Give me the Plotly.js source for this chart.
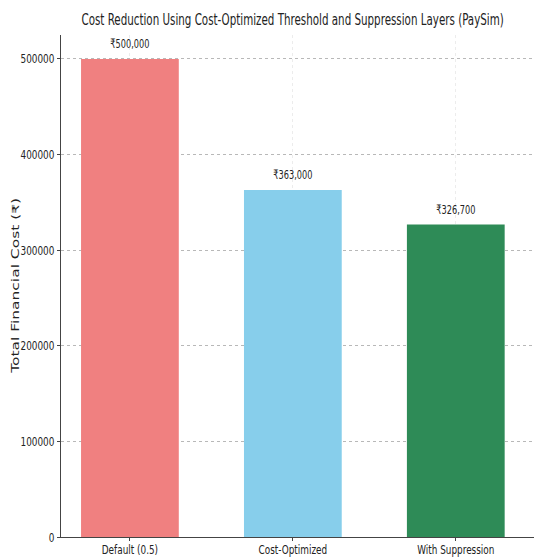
<!DOCTYPE html>
<html>
<head>
<meta charset="utf-8">
<script src="https://cdn.plot.ly/plotly-3.0.1.min.js"></script>
<style>html,body{margin:0;padding:0;background:#fff;}#chart{width:534px;height:558px;}</style>
</head>
<body>
<div id="chart"></div>
<script>
const categories = ["Default (0.5)", "Cost-Optimized", "With Suppression"];
const costs = [500000, 363000, 326700];
const costLabels = ["₹500,000", "₹363,000", "₹326,700"];
const barColors = ["#F08080", "#87CEEB", "#2E8B57"];
const yTicks = [0, 100000, 200000, 300000, 400000, 500000];
const yAxisTitle = "Total Financial Cost (₹)";

const narrow = "'DejaVu Sans Condensed', 'DejaVu Sans', sans-serif";

const trace = {
  type: "bar",
  x: categories,
  y: costs,
  marker: {color: barColors, line: {width: 0}},
  width: 0.6,
  hoverinfo: "none"
};

const annotations = categories.map((c, i) => ({
  x: c, y: costs[i], xref: "x", yref: "y",
  text: costLabels[i], showarrow: false,
  yanchor: "bottom", yshift: 6,
  font: {family: narrow, size: 13, color: "#222"}
}));
annotations.push({
  x: 0, xref: "paper", xshift: -45, xanchor: "center",
  y: 0.5, yref: "paper", yanchor: "middle",
  text: yAxisTitle, showarrow: false, textangle: -90,
  font: {family: "'DejaVu Sans', sans-serif", size: 15.5, color: "#222"}
});

const layout = {
  width: 534, height: 558,
  margin: {l: 61, r: 0, t: 35, b: 21, pad: 0},
  paper_bgcolor: "#fff", plot_bgcolor: "#fff",
  title: {
    text: "Cost Reduction Using Cost-Optimized Threshold and Suppression Layers (PaySim)",
    font: {family: narrow, size: 15, color: "#222"},
    x: 0.548, xanchor: "center", y: 0.964, yanchor: "middle"
  },
  showlegend: false,
  xaxis: {
    type: "category",
    range: [-0.423, 2.48],
    showline: true, linecolor: "#444", linewidth: 1,
    ticks: "outside", ticklen: 3, tickcolor: "#444",
    showgrid: true, gridcolor: "#ececec", griddash: "dot", gridwidth: 1,
    tickfont: {family: narrow, size: 13, color: "#222"},
    zeroline: false, fixedrange: true
  },
  yaxis: {
    range: [0, 525000],
    tickvals: yTicks,
    ticktext: yTicks.map(v => String(v)),
    showline: true, linecolor: "#444", linewidth: 1,
    ticks: "outside", ticklen: 3, tickcolor: "#444",
    showgrid: true, gridcolor: "#b8b8b8", griddash: "dot", gridwidth: 1,
    zeroline: false,
    tickfont: {family: narrow, size: 13, color: "#222"},
    fixedrange: true
  },
  annotations: annotations
};

function squishEl(t, sx, sy, anchor, dy) {
  const b = t.getBBox();
  const cx = anchor === "end" ? b.x + b.width : b.x + b.width / 2;
  const cy = b.y + b.height / 2;
  const tr = t.getAttribute("transform") || "";
  t.setAttribute("transform", tr + " translate(" + cx + "," + (cy + (dy || 0)) + ") scale(" + sx + "," + sy + ") translate(" + (-cx) + "," + (-cy) + ")");
}
function squish(sel, s, anchor, dy) {
  document.querySelectorAll(sel).forEach(t => squishEl(t, s, 1, anchor, dy));
}

Plotly.newPlot("chart", [trace], layout, {displayModeBar: false, staticPlot: true}).then(() => {
  squish("#chart .gtitle", 0.765, "middle");
  squish("#chart .xtick text", 0.76, "middle", -2.5);
  squish("#chart .ytick text", 0.76, "end");
  document.querySelectorAll("#chart .annotation-text").forEach(t => {
    if (t.textContent.indexOf("Total") === -1) {
      squishEl(t, 0.7, 1, "middle");
    } else {
      squishEl(t, 1, 0.62, "middle");
    }
  });
});
</script>
</body>
</html>
